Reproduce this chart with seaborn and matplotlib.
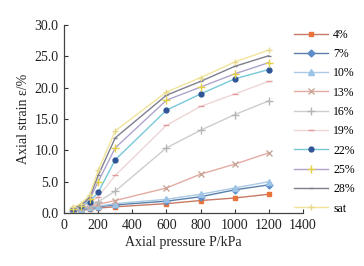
import matplotlib
matplotlib.use("Agg")
import matplotlib.pyplot as plt
import matplotlib.ticker as mticker
import seaborn as sns
import pandas as pd

pressure = [50, 100, 150, 200, 300, 600, 800, 1000, 1200]

labels = ["4%", "7%", "10%", "13%", "16%", "19%", "22%", "25%", "28%", "sat"]

s4 = [0.3, 0.5, 0.6, 0.8, 1.0, 1.5, 2.0, 2.4, 3.0]
s7 = [0.4, 0.6, 0.8, 1.0, 1.3, 1.9, 2.6, 3.7, 4.5]
s10 = [0.4, 0.7, 0.9, 1.1, 1.5, 2.2, 3.0, 4.0, 5.0]
s13 = [0.5, 0.8, 1.1, 1.4, 2.0, 4.0, 6.2, 7.8, 9.6]
s16 = [0.5, 0.9, 1.2, 1.8, 3.5, 10.4, 13.2, 15.7, 17.9]
s19 = [0.6, 1.0, 1.5, 2.6, 6.0, 14.0, 17.0, 19.0, 21.0]
s22 = [0.6, 1.1, 1.8, 3.3, 8.5, 16.4, 19.0, 21.4, 22.9]
s25 = [0.7, 1.2, 2.2, 5.0, 10.4, 18.0, 20.1, 22.2, 24.0]
s28 = [0.8, 1.3, 2.5, 6.0, 12.0, 18.8, 21.0, 23.4, 25.1]
ssat = [0.9, 1.5, 2.9, 6.8, 13.1, 19.3, 21.6, 24.1, 26.0]

series = [s4, s7, s10, s13, s16, s19, s22, s25, s28, ssat]

line_colors = ["#C87A66", "#5A7FA8", "#A9C9E6", "#E2ACA2", "#CDCDCD",
               "#EDD6D6", "#77C8D8", "#AFA3CC", "#7E7E8E", "#F1E49A"]
marker_colors = ["#E8743B", "#5B8CC8", "#9CC3E6", "#C9A597", "#B5B5B5",
                 "#E59A9A", "#2F5597", "#E5CF45", "#7E7E8E", "#E6D98C"]
markers = ["s", "D", "^", "x", "+", "_", "o", "+", "_", "+"]
msizes = [3.5, 3.5, 4, 5, 6, 4, 3.5, 6, 3, 5]

plt.rcParams['font.family'] = ['Liberation Serif', 'DejaVu Serif']

fig = plt.figure(figsize=(3.64, 2.66), dpi=100)
ax = fig.add_axes([0.176, 0.199, 0.656, 0.707])

for lab, vals, lc, mc, mk, ms in zip(labels, series, line_colors, marker_colors, markers, msizes):
    df = pd.DataFrame({"P": pressure, "strain": vals})
    sns.lineplot(data=df, x="P", y="strain", ax=ax, color=lc, linewidth=1.0,
                 marker=mk, markersize=ms, markerfacecolor=mc, markeredgecolor=mc,
                 markeredgewidth=1.0, label=lab, legend=False)

ax.set_xlim(0, 1400)
ax.set_ylim(0, 30)
ax.set_xticks(range(0, 1401, 200))
ax.set_yticks(range(0, 31, 5))
ax.yaxis.set_major_formatter(mticker.FormatStrFormatter("%.1f"))
ax.tick_params(direction="in", length=3, width=0.8, labelsize=10, colors="#333333",
               labelcolor="#222222", pad=4)
for sp in ["top", "right"]:
    ax.spines[sp].set_visible(False)
for sp in ["left", "bottom"]:
    ax.spines[sp].set_color("#444444")
    ax.spines[sp].set_linewidth(0.9)
ax.set_xlabel("Axial pressure P/kPa", fontsize=10, color="#222222", labelpad=3)
ax.set_ylabel("Axial strain ε/%", fontsize=10, color="#222222", labelpad=3)

handles, labs = ax.get_legend_handles_labels()
fig.legend(handles, labs, loc="upper left", bbox_to_anchor=(0.795, 0.91),
           frameon=False, fontsize=8.5, handlelength=2.9, labelspacing=0.62,
           handletextpad=0.4, borderaxespad=0)

fig.savefig("out.png", dpi=100)
